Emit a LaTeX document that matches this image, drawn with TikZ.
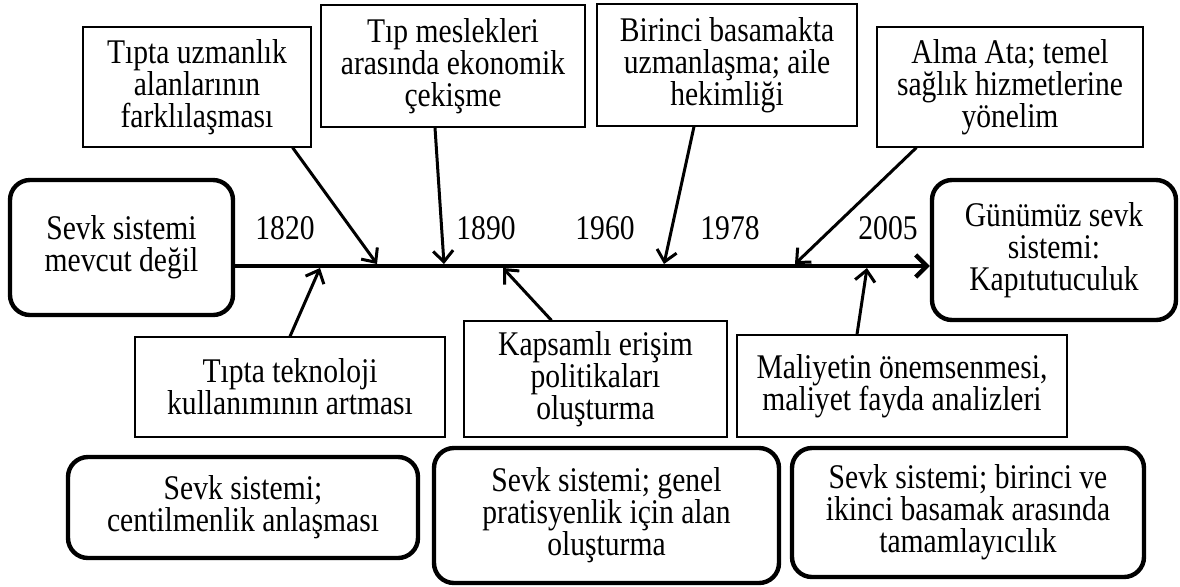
\documentclass[tikz,border=0pt]{standalone}
\usepackage{fontspec}
\setmainfont{Liberation Serif}[FakeStretch=0.855]
\usetikzlibrary{arrows.meta}

\begin{document}
\begin{tikzpicture}[x=0.5pt, y=-0.5pt,
    every node/.style={font=\fontsize{17.3}{16}\selectfont, align=center, inner sep=0pt},
    olay/.style={draw, line width=0.6pt},
    donem/.style={draw, line width=2.2pt, rounded corners=10pt},
    ok/.style={line width=1.5pt, -{Straight Barb[length=5.5pt,width=10pt]}},
    eksen/.style={line width=2.2pt, -{Straight Barb[length=5.5pt,width=11pt]}}]
\useasboundingbox (0,0) rectangle (1180,586);

\node[donem, minimum width=111.5pt, minimum height=67.5pt] (yok) at (121.5,247.5) {Sevk sistemi\\mevcut değil};
\node[donem, minimum width=122pt, minimum height=70pt] (kapi) at (1054,250) {Günümüz sevk\\sistemi:\\Kapıtutuculuk};

\node[olay, minimum width=114pt, minimum height=60pt] (uzman) at (197,87) {Tıpta uzmanlık\\alanlarının\\farklılaşması};
\node[olay, minimum width=132pt, minimum height=61pt] (ekonomi) at (453,66) {Tıp meslekleri\\arasında ekonomik\\çekişme};
\node[olay, minimum width=130pt, minimum height=61pt] (aile) at (727,65) {Birinci basamakta\\uzmanlaşma; aile\\hekimliği};
\node[olay, minimum width=133pt, minimum height=60pt] (almaata) at (1010,87) {Alma Ata; temel\\sağlık hizmetlerine\\yönelim};

\node[olay, minimum width=155pt, minimum height=50pt] (teknoloji) at (290,387) {Tıpta teknoloji\\kullanımının artması};
\node[olay, minimum width=131.5pt, minimum height=58pt] (erisim) at (595.5,379) {Kapsamlı erişim\\politikaları\\oluşturma};
\node[olay, minimum width=165pt, minimum height=51pt] (maliyet) at (902,386) {Maliyetin önemsenmesi,\\maliyet fayda analizleri};

\node[donem, minimum width=175pt, minimum height=50.5pt] (centil) at (243,507.5) {Sevk sistemi;\\centilmenlik anlaşması};
\node[donem, minimum width=172.5pt, minimum height=67.5pt] (pratisyen) at (606.5,515.5) {Sevk sistemi; genel\\pratisyenlik için alan\\oluşturma};
\node[donem, minimum width=176pt, minimum height=64.5pt] (tamam) at (968,512.5) {Sevk sistemi; birinci ve\\ikinci basamak arasında\\tamamlayıcılık};

\foreach \yil/\x in {1820/285,1890/486,1960/605,1978/730,2005/888}{
    \node (y\yil) at (\x,228) {\yil};
}

\coordinate (eks) at (0,266);
\draw[eksen] (yok.east |- eks) -- (kapi.west |- eks);

\coordinate (a1) at (377,264);
\coordinate (a2) at (444,264);
\coordinate (a3) at (664,264);
\coordinate (a4) at (795,264);
\coordinate (b1) at (320,268);
\coordinate (b2) at (503,268);
\coordinate (b3) at (867,268);

\draw[ok] ([xshift=-9.5pt]uzman.south east) -- (a1);
\draw[ok] ([xshift=-9pt]ekonomi.south) -- (a2);
\draw[ok] ([xshift=-16.5pt]aile.south) -- (a3);
\draw[ok] ([xshift=20pt]almaata.south west) -- (a4);
\draw[ok] (teknoloji.north) -- (b1);
\draw[ok] ([xshift=-22pt]erisim.north) -- (b2);
\draw[ok] ([xshift=-22.5pt]maliyet.north) -- (b3);
\end{tikzpicture}
\end{document}
